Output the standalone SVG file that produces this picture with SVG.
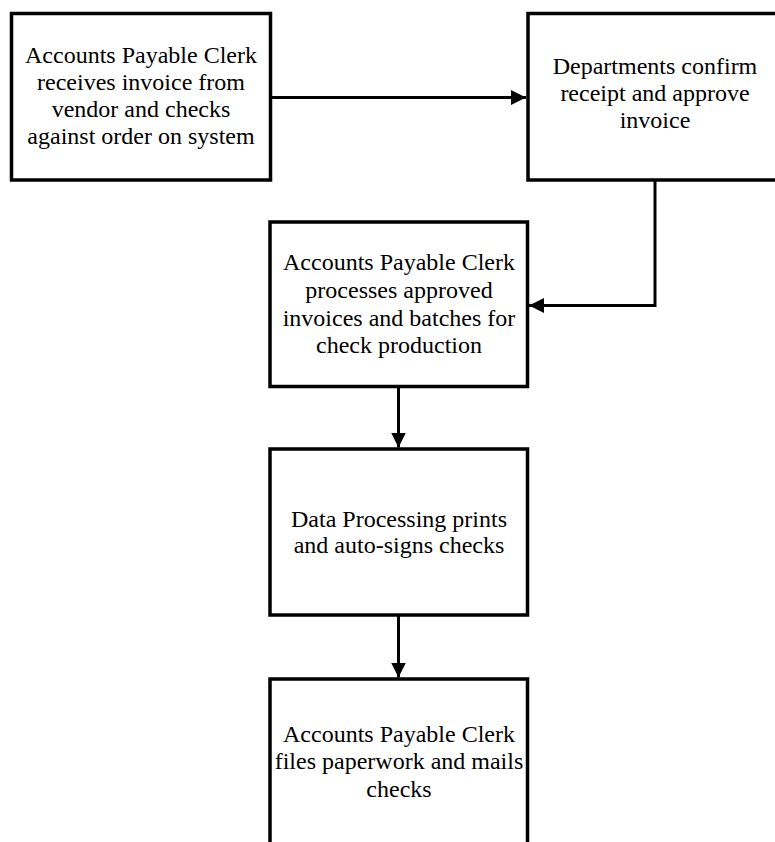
<svg xmlns="http://www.w3.org/2000/svg" width="775" height="842" viewBox="0 0 775 842">
  <style>
    .box { fill: #ffffff; stroke: #000000; stroke-width: 3.5; }
    .lbl { font-family: "Liberation Serif", "Times New Roman", serif; font-size: 24px; fill: #000000; text-anchor: middle; }
    .conn { fill: none; stroke: #000000; stroke-width: 3; }
  </style>
  <defs>
    <marker id="arrow" markerUnits="userSpaceOnUse" markerWidth="15" markerHeight="15" refX="15" refY="7.5" orient="auto">
      <path d="M0,0 L15,7.5 L0,15 Z" fill="#000000"/>
    </marker>
  </defs>
  <rect width="775" height="842" fill="#ffffff"/>

  <g id="connectors">
    <line class="conn" x1="272" y1="97.5" x2="526" y2="97.5" marker-end="url(#arrow)"/>
    <polyline class="conn" points="655,181 655,305.5 529,305.5" marker-end="url(#arrow)"/>
    <line class="conn" x1="398.5" y1="388" x2="398.5" y2="447.5" marker-end="url(#arrow)"/>
    <line class="conn" x1="398.5" y1="616" x2="398.5" y2="677.5" marker-end="url(#arrow)"/>
  </g>

  <g id="node1">
    <rect class="box" x="11.5" y="13.5" width="259" height="166.5"/>
    <text class="lbl" x="141" y="63">Accounts Payable Clerk</text>
    <text class="lbl" x="141" y="90">receives invoice from</text>
    <text class="lbl" x="141" y="117">vendor and checks</text>
    <text class="lbl" x="141" y="144">against order on system</text>
  </g>

  <g id="node2">
    <rect class="box" x="528" y="13.5" width="257" height="166.5"/>
    <text class="lbl" x="655" y="74">Departments confirm</text>
    <text class="lbl" x="655" y="101">receipt and approve</text>
    <text class="lbl" x="655" y="128">invoice</text>
  </g>

  <g id="node3">
    <rect class="box" x="270" y="222" width="257.5" height="164.5"/>
    <text class="lbl" x="399" y="270">Accounts Payable Clerk</text>
    <text class="lbl" x="399" y="298">processes approved</text>
    <text class="lbl" x="399" y="326">invoices and batches for</text>
    <text class="lbl" x="399" y="353">check production</text>
  </g>

  <g id="node4">
    <rect class="box" x="270" y="449" width="257.5" height="166"/>
    <text class="lbl" x="399" y="527">Data Processing prints</text>
    <text class="lbl" x="399" y="553">and auto-signs checks</text>
  </g>

  <g id="node5">
    <rect class="box" x="270" y="679" width="257.5" height="220"/>
    <text class="lbl" x="399" y="742">Accounts Payable Clerk</text>
    <text class="lbl" x="399" y="769">files paperwork and mails</text>
    <text class="lbl" x="399" y="797">checks</text>
  </g>
</svg>
